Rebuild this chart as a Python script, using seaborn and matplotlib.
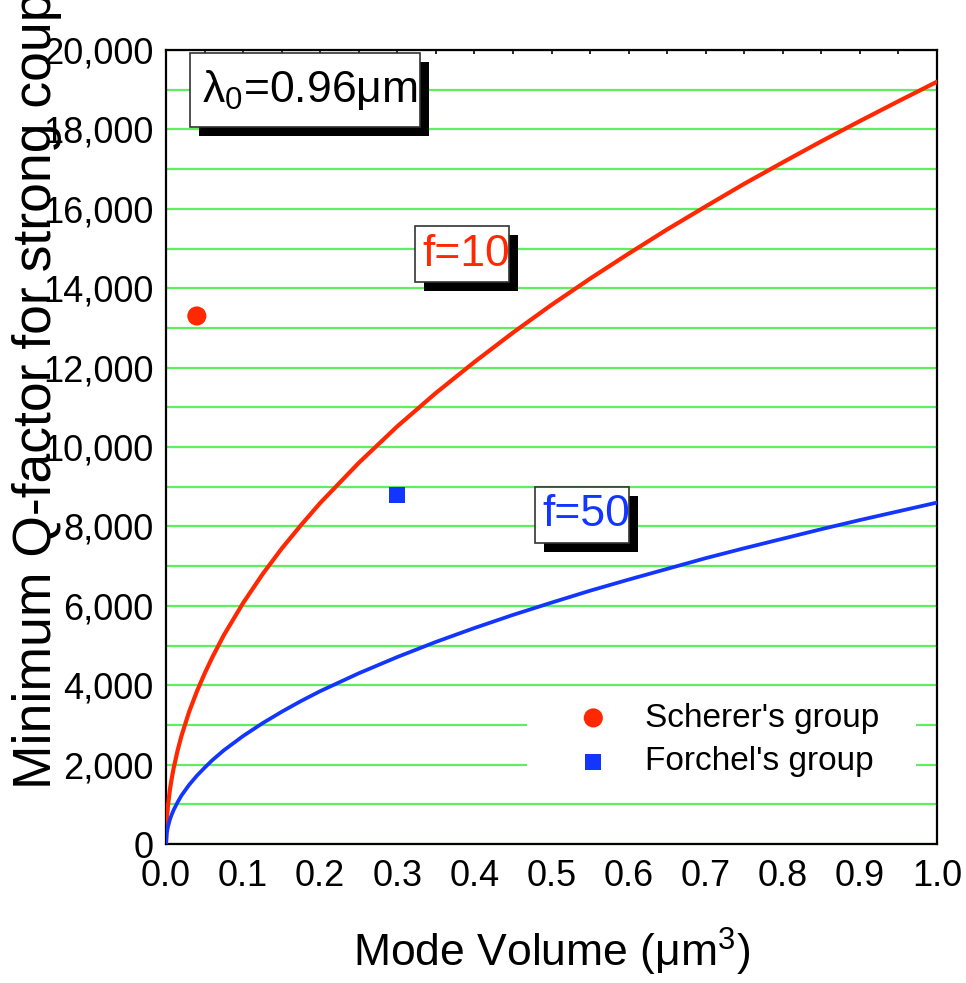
import matplotlib
matplotlib.use("Agg")
import matplotlib.pyplot as plt
from matplotlib.patches import Rectangle
from matplotlib.ticker import FuncFormatter, MultipleLocator
import numpy as np
import seaborn as sns

# Mode volume (um^3) and minimum Q-factor required for strong coupling
volume = [0, 0.001, 0.0025, 0.005, 0.0075, 0.01, 0.015, 0.02, 0.03, 0.04, 0.05,
          0.06, 0.075, 0.1, 0.125, 0.15, 0.175, 0.2, 0.25, 0.3, 0.35, 0.4,
          0.45, 0.5, 0.55, 0.6, 0.65, 0.7, 0.75, 0.8, 0.85, 0.9, 0.95, 1.0]
q_f10 = [0, 610, 960, 1360, 1660, 1920, 2350, 2720, 3330, 3840, 4290,
         4700, 5260, 6070, 6790, 7440, 8030, 8590, 9600, 10520, 11360, 12140,
         12880, 13580, 14240, 14870, 15480, 16060, 16630, 17170, 17700, 18210,
         18710, 19200]
q_f50 = [0, 270, 430, 610, 745, 860, 1050, 1220, 1490, 1720, 1920,
         2110, 2360, 2720, 3040, 3330, 3600, 3850, 4300, 4710, 5090, 5440,
         5770, 6080, 6380, 6660, 6930, 7200, 7450, 7690, 7930, 8160, 8380, 8600]

# Experimental results
groups = ["Scherer's group", "Forchel's group"]
group_volume = [0.04, 0.30]
group_q = [13300, 8800]

curve_labels = ["f=10", "f=50"]
wavelength_label = "λ$_0$=0.96μm"
x_ticks = [0.0, 0.1, 0.2, 0.3, 0.4, 0.5, 0.6, 0.7, 0.8, 0.9, 1.0]
y_ticks = [0, 2000, 4000, 6000, 8000, 10000, 12000, 14000, 16000, 18000, 20000]

RED = "#FF2800"
BLUE = "#1236FF"
GRID = "#5FEE5F"

sns.set_theme(style="white")
plt.rcParams["font.family"] = ["Liberation Sans", "DejaVu Sans"]
plt.rcParams["mathtext.fontset"] = "custom"
plt.rcParams["mathtext.rm"] = "Liberation Sans"
plt.rcParams["mathtext.default"] = "regular"
for key in ("text.color", "axes.labelcolor", "xtick.color", "ytick.color"):
    plt.rcParams[key] = "black"

fig = plt.figure(figsize=(9.66, 9.83), dpi=100)
ax = fig.add_axes([166 / 966, 1 - 844 / 983, 771 / 966, 794 / 983])

sns.lineplot(x=volume, y=q_f10, color=RED, lw=3.0, ax=ax, zorder=3)
sns.lineplot(x=volume, y=q_f50, color=BLUE, lw=2.7, ax=ax, zorder=3)
sns.scatterplot(x=group_volume[:1], y=group_q[:1], marker="o", s=190,
                color=RED, edgecolor="none", ax=ax, zorder=4, label=groups[0])
sns.scatterplot(x=group_volume[1:], y=group_q[1:], marker="s", s=130,
                color=BLUE, edgecolor="none", ax=ax, zorder=4, label=groups[1])

ax.set_xlim(0, 1.0)
ax.set_ylim(0, 20000)
ax.set_xticks(x_ticks)
ax.set_xticklabels([f"{v:.1f}" for v in x_ticks])
ax.xaxis.set_minor_locator(MultipleLocator(0.05))
ax.set_yticks(y_ticks)
ax.yaxis.set_minor_locator(MultipleLocator(1000))
ax.yaxis.set_major_formatter(FuncFormatter(lambda v, p: f"{v:,.0f}"))

ax.set_axisbelow(True)
ax.grid(True, which="both", axis="y", color=GRID, lw=1.6)
ax.grid(False, axis="x")

for s in ax.spines.values():
    s.set_color("black")
    s.set_linewidth(1.6)

ax.tick_params(which="major", direction="in", length=13, width=1.8,
               color="black", labelsize=26, labelcolor="black")
ax.tick_params(axis="x", which="major", pad=11)
ax.tick_params(axis="y", which="major", pad=9)
ax.tick_params(which="minor", direction="in", length=7, width=1.8, color="black")

top = ax.secondary_xaxis("top")
top.set_xticks(np.arange(0, 1.0001, 0.05))
top.tick_params(direction="in", length=3, width=1.2, labeltop=False)
right = ax.secondary_yaxis("right")
right.set_yticks(np.arange(0, 20001, 1000))
right.tick_params(direction="in", length=4, width=1.2, labelright=False)

ax.set_xlabel("Mode Volume (μm$^3$)", fontsize=32, labelpad=23, color="black")
ax.set_ylabel("")
fig.text(37 / 966, 1 - 789 / 983, "Minimum Q-factor for strong coupling",
         rotation=90, ha="center", va="bottom", fontsize=38.5, color="black")

# white panel behind the legend
ax.add_patch(Rectangle((0.468, 0.0554), 0.505, 0.1356, transform=ax.transAxes,
                       facecolor="white", edgecolor="none", zorder=1))
handles, labels = ax.get_legend_handles_labels()
leg = ax.legend(handles, labels, loc="upper left", bbox_to_anchor=(0.511, 0.178),
                frameon=False, fontsize=24, handlelength=2.0, handletextpad=0.55,
                labelspacing=0.38, borderpad=0, borderaxespad=0)
for t in leg.get_texts():
    t.set_color("black")


def shadow_box(x0, y0, x1, y1, text, color, size):
    dx, dy = 9 / 771, 9 / 794
    ax.add_patch(Rectangle((x0 + dx, y0 - dy), x1 - x0, y1 - y0,
                           transform=ax.transAxes, facecolor="black",
                           edgecolor="none", zorder=5))
    ax.add_patch(Rectangle((x0, y0), x1 - x0, y1 - y0, transform=ax.transAxes,
                           facecolor="white", edgecolor="#333333", lw=1.2,
                           zorder=6))
    ax.text((x0 + x1) / 2 + 0.006, (y0 + y1) / 2, text, transform=ax.transAxes,
            ha="center", va="center", color=color, fontsize=size, zorder=7)


shadow_box(0.031, 0.903, 0.329, 0.996, wavelength_label, "black", 32)
shadow_box(0.323, 0.708, 0.445, 0.778, curve_labels[0], RED, 32)
shadow_box(0.479, 0.379, 0.600, 0.450, curve_labels[1], BLUE, 32)

fig.savefig("out.png", dpi=100)
